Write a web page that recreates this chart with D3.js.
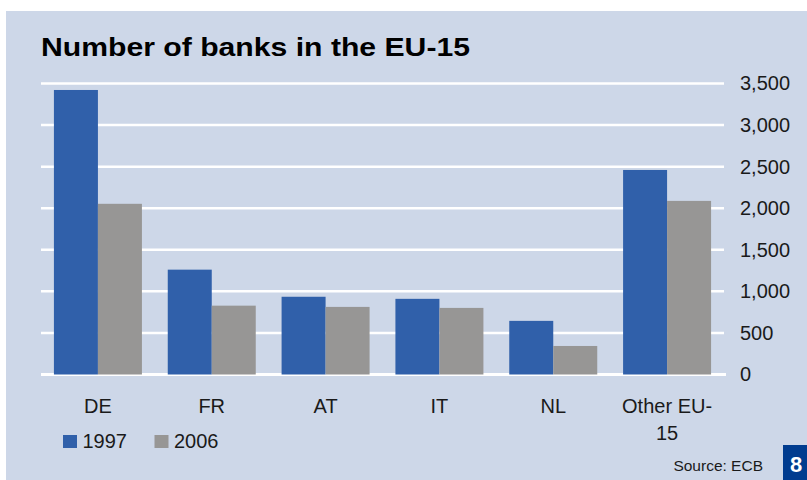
<!DOCTYPE html>
<html>
<head>
<meta charset="utf-8">
<script src="https://cdn.jsdelivr.net/npm/d3@7"></script>
<style>
  body { margin: 0; background: #fff; }
  text { font-family: "Liberation Sans", Arial, sans-serif; }
</style>
</head>
<body>
<svg id="chart" width="807" height="480"></svg>
<script>
// chart data
var categories = ['DE', 'FR', 'AT', 'IT', 'NL', 'Other EU-15'];
var years = ['1997', '2006'];
var banks1997 = [3422, 1261, 935, 910, 645, 2460];
var banks2006 = [2053, 828, 813, 801, 343, 2088];
var yTicks = [0, 500, 1000, 1500, 2000, 2500, 3000, 3500];

var colors = { '1997': '#3060AA', '2006': '#979695' };

var svg = d3.select('#chart');

// panel background
svg.append('rect')
  .attr('x', 6).attr('y', 11)
  .attr('width', 801).attr('height', 469)
  .attr('fill', '#CDD7E8');

// title (reference font is heavier/wider, so stretch to its width)
svg.append('text')
  .attr('x', 41).attr('y', 56)
  .attr('font-size', 25).attr('font-weight', 'bold')
  .attr('fill', '#000')
  .attr('textLength', 429)
  .attr('lengthAdjust', 'spacingAndGlyphs')
  .text('Number of banks in the EU-15');

// scales
var x = d3.scaleBand()
  .domain(categories)
  .range([41, 724])
  .paddingInner(0.227)
  .paddingOuter(0.1135);

var xSub = d3.scaleBand()
  .domain(years)
  .range([0, x.bandwidth()]);

var y = d3.scaleLinear()
  .domain([0, 3500])
  .range([374.5, 83.5]);

// gridlines
svg.append('g').selectAll('line')
  .data(yTicks)
  .enter()
  .append('line')
  .attr('x1', 41)
  .attr('x2', function(d) { return d === 0 ? 726 : 724; })
  .attr('y1', function(d) { return y(d); })
  .attr('y2', function(d) { return y(d); })
  .attr('stroke', '#fff')
  .attr('stroke-width', function(d) { return d === 0 ? 3 : 2.5; });

// right axis labels
var yAxis = d3.axisRight(y)
  .tickValues(yTicks)
  .tickFormat(d3.format(','))
  .tickSize(0)
  .tickPadding(0);

svg.append('g')
  .attr('transform', 'translate(740,0)')
  .call(yAxis)
  .call(function(g) {
    g.select('.domain').remove();
    g.selectAll('text')
      .attr('font-size', 20)
      .attr('fill', '#1a1a1a')
      .attr('font-family', '"Liberation Sans", Arial, sans-serif');
  });

// bars
var rows = categories.map(function(c, i) {
  return { cat: c, values: [
    { year: '1997', value: banks1997[i] },
    { year: '2006', value: banks2006[i] }
  ] };
});

var groups = svg.append('g').selectAll('g')
  .data(rows)
  .enter()
  .append('g')
  .attr('transform', function(d) { return 'translate(' + x(d.cat) + ',0)'; });

groups.selectAll('rect')
  .data(function(d) { return d.values; })
  .enter()
  .append('rect')
  .attr('x', function(d) { return xSub(d.year); })
  .attr('width', xSub.bandwidth())
  .attr('y', function(d) { return y(d.value); })
  .attr('height', function(d) { return y(0) - y(d.value); })
  .attr('fill', function(d) { return colors[d.year]; });

// category labels, the last one wraps onto two lines
var labels = svg.append('g').selectAll('text')
  .data(categories)
  .enter()
  .append('text')
  .attr('x', function(d) { return x(d) + x.bandwidth() / 2; })
  .attr('y', 413)
  .attr('text-anchor', 'middle')
  .attr('font-size', 20)
  .attr('fill', '#1a1a1a');

labels.each(function(d) {
  var t = d3.select(this);
  var cx = x(d) + x.bandwidth() / 2;
  if (d === 'Other EU-15') {
    t.append('tspan').attr('x', cx).text('Other EU-');
    t.append('tspan').attr('x', cx).attr('dy', 27).text('15');
  } else {
    t.text(d);
  }
});

// legend
var legend = svg.append('g').attr('transform', 'translate(63,435)');
var legItems = legend.selectAll('g')
  .data(years)
  .enter()
  .append('g')
  .attr('transform', function(d, i) { return 'translate(' + (i * 91.5) + ',0)'; });

legItems.append('rect')
  .attr('width', 14).attr('height', 13)
  .attr('fill', function(d) { return colors[d]; });

legItems.append('text')
  .attr('x', 19.5).attr('y', 13)
  .attr('font-size', 20)
  .attr('fill', '#1a1a1a')
  .text(function(d) { return d; });

// source + page number
svg.append('text')
  .attr('x', 763).attr('y', 471)
  .attr('text-anchor', 'end')
  .attr('font-size', 15.5)
  .attr('fill', '#1a1a1a')
  .text('Source: ECB');

svg.append('rect')
  .attr('x', 783).attr('y', 445)
  .attr('width', 24).attr('height', 35)
  .attr('fill', '#003C8F');

svg.append('text')
  .attr('x', 796).attr('y', 472)
  .attr('text-anchor', 'middle')
  .attr('font-size', 22).attr('font-weight', 'bold')
  .attr('fill', '#fff')
  .text('8');
</script>
</body>
</html>
